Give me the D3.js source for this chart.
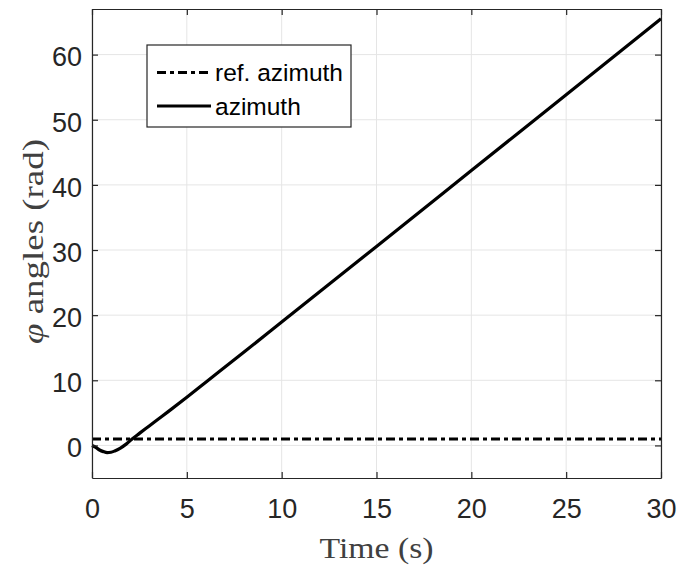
<!DOCTYPE html>
<html><head><meta charset="utf-8">
<script src="https://cdn.jsdelivr.net/npm/d3@7"></script>
<style>body{margin:0;background:#fff}</style>
</head><body>
<script>
const timeVals = [0,0.2,0.4,0.6,0.8,1.0,1.2,1.5,1.8,2.1,2.5,3,3.5,4,5,6,8,10,15,20,25,30];
const azimuth = [0,-0.3,-0.7,-0.95,-1.1,-1.05,-0.85,-0.4,0.2,0.95,1.85,2.95,4.05,5.15,7.4,9.7,14.3,18.95,30.55,42.2,53.85,65.5];
const refTime = [0,30];
const refAzimuth = [1,1];
const xTicks = [0,5,10,15,20,25,30];
const yTicks = [0,10,20,30,40,50,60];
const legendLabels = ["ref. azimuth","azimuth"];

const W=678,H=570;
const m={l:92,r:17,t:9,b:92};
const svg=d3.select("body").append("svg").attr("width",W).attr("height",H);
const x=d3.scaleLinear().domain([0,30]).range([m.l,W-m.r]);
const y=d3.scaleLinear().domain([-5,67]).range([H-m.b,m.t]);
const axisCol="#262626", gridCol="#e5e5e5";
const dashPat="9,4,4,4";

// grid
const g=svg.append("g");
g.selectAll(".gx").data(xTicks).enter().append("line")
 .attr("x1",d=>x(d)).attr("x2",d=>x(d)).attr("y1",y.range()[0]).attr("y2",y.range()[1])
 .attr("stroke",gridCol).attr("stroke-width",1);
g.selectAll(".gy").data(yTicks).enter().append("line")
 .attr("y1",d=>y(d)).attr("y2",d=>y(d)).attr("x1",x.range()[0]).attr("x2",x.range()[1])
 .attr("stroke",gridCol).attr("stroke-width",1);

// data lines
const line=d3.line().x(d=>x(d[0])).y(d=>y(d[1]));
svg.append("path").datum(refTime.map((t,i)=>[t,refAzimuth[i]])).attr("d",line)
 .attr("fill","none").attr("stroke","#000").attr("stroke-width",3).attr("stroke-dasharray",dashPat);
svg.append("path").datum(timeVals.map((t,i)=>[t,azimuth[i]])).attr("d",d3.line().curve(d3.curveMonotoneX).x(d=>x(d[0])).y(d=>y(d[1])))
 .attr("fill","none").attr("stroke","#000").attr("stroke-width",3.2);

// axes (ticks inward, all four sides)
const tl=-6;
const fontTick="'Liberation Sans', Arial, sans-serif";
function style(sel){
  sel.select(".domain").attr("stroke",axisCol).attr("stroke-width",1.2);
  sel.selectAll(".tick line").attr("stroke",axisCol).attr("stroke-width",1.2);
  sel.selectAll(".tick text").attr("fill",axisCol).style("font-family",fontTick).style("font-size","27px");
}
const xb=svg.append("g").attr("transform",`translate(0,${y(-5)})`)
 .call(d3.axisBottom(x).tickValues(xTicks).tickSize(tl).tickSizeOuter(0).tickPadding(21));
style(xb);
const xt=svg.append("g").attr("transform",`translate(0,${y(67)})`)
 .call(d3.axisTop(x).tickValues(xTicks).tickSize(tl).tickSizeOuter(0).tickFormat(""));
style(xt);
const yl=svg.append("g").attr("transform",`translate(${x(0)},0)`)
 .call(d3.axisLeft(y).tickValues(yTicks).tickSize(tl).tickSizeOuter(0).tickPadding(10));
style(yl);
yl.selectAll(".tick text").attr("dy","0.42em");
const yr=svg.append("g").attr("transform",`translate(${x(30)},0)`)
 .call(d3.axisRight(y).tickValues(yTicks).tickSize(tl).tickSizeOuter(0).tickFormat(""));
style(yr);

// axis labels
const serif="'Liberation Serif','Times New Roman',serif";
svg.append("text").attr("x",(x(0)+x(30))/2).attr("y",558).attr("text-anchor","middle")
 .attr("textLength",114).attr("lengthAdjust","spacingAndGlyphs")
 .style("font-family",serif).style("font-size","29px").attr("fill","#404040").text("Time (s)");
const ylab=svg.append("text").attr("transform",`translate(43,${(y(-5)+y(67))/2 - 2}) rotate(-90)`)
 .attr("text-anchor","middle").attr("textLength",205).attr("lengthAdjust","spacingAndGlyphs")
 .style("font-family",serif).style("font-size","29px").attr("fill","#404040");
ylab.append("tspan").style("font-style","italic").text("φ");
ylab.append("tspan").text(" angles (rad)");

// legend
const lg=svg.append("g");
lg.append("rect").attr("x",147).attr("y",45).attr("width",204).attr("height",82)
 .attr("fill","#fff").attr("stroke",axisCol).attr("stroke-width",1.2);
const dashes=[dashPat,null];
legendLabels.forEach((lab,i)=>{
  const yy=72.5+i*33.5;
  lg.append("line").attr("x1",157).attr("x2",211).attr("y1",yy).attr("y2",yy)
    .attr("stroke","#000").attr("stroke-width",3).attr("stroke-dasharray",dashes[i]);
  lg.append("text").attr("x",215).attr("y",yy).attr("dy","0.36em")
    .style("font-family",fontTick).style("font-size","24.5px").attr("fill","#000").text(lab);
});
</script>
</body></html>
